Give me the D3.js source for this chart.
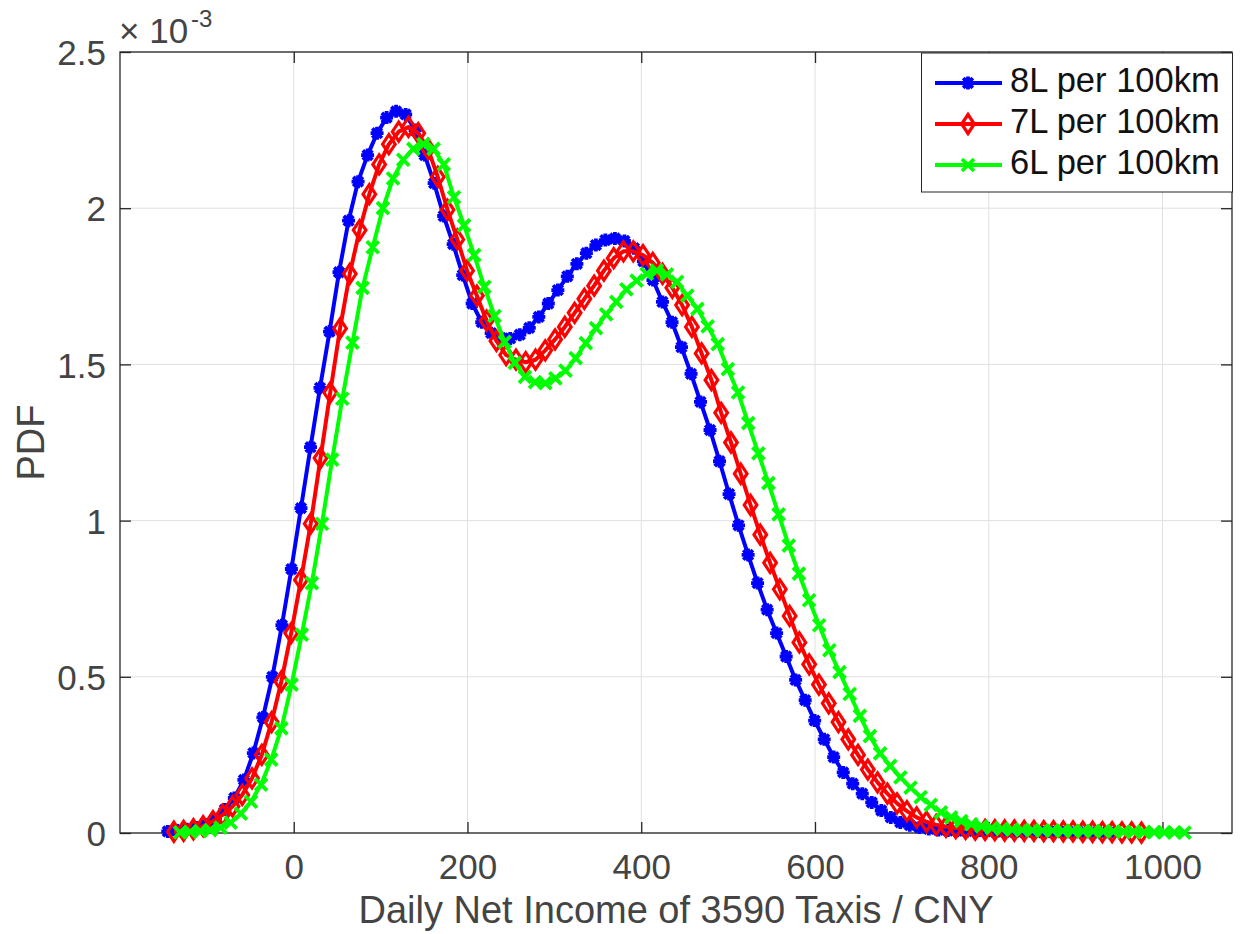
<!DOCTYPE html>
<html><head><meta charset="utf-8">
<script src="https://cdn.jsdelivr.net/npm/d3@7"></script>
<style>body{margin:0;background:#fff}text{font-family:"Liberation Sans",Arial,sans-serif}</style>
</head><body>
<svg id="c" width="1241" height="934"></svg>
<script>
// ---- data (PDF values in units of 1e-3) ----
const seriesNames = ["8L per 100km", "7L per 100km", "6L per 100km"];
const seriesColors = ["#0000ff", "#ff0000", "#00ff00"];

const blueX = [-145.0,-134.1,-123.1,-112.2,-101.2,-90.3,-79.3,-68.4,-57.4,-46.5,-35.5,-24.6,-13.6,-2.7,8.3,19.3,30.2,41.2,52.1,63.1,74.0,85.0,95.9,106.9,117.8,128.8,139.7,150.7,161.6,172.6,183.5,194.5,205.4,216.4,227.3,238.3,249.2,260.2,271.1,282.1,293.0,304.0,314.9,325.9,336.8,347.8,358.7,369.7,380.6,391.6,402.5,413.5,424.4,435.4,446.3,457.3,468.2,479.2,490.1,501.1,512.0,523.0,533.9,544.9,555.8,566.8,577.7,588.7,599.6,610.6,621.5,632.5,643.4,654.4,665.3,676.3,687.2,698.2,709.1,720.1,731.0,742.0,752.9,763.9,774.8,785.8,796.7,807.7,818.6,829.6,840.5,851.5,862.4,873.4,884.3,895.3,906.2,917.2,928.1,939.1];
const blueY = [0.005,0.008,0.012,0.018,0.027,0.042,0.075,0.112,0.17,0.256,0.37,0.50,0.665,0.845,1.04,1.235,1.425,1.605,1.795,1.96,2.085,2.17,2.24,2.29,2.31,2.30,2.25,2.17,2.08,1.975,1.885,1.786,1.695,1.635,1.60,1.585,1.583,1.595,1.617,1.652,1.695,1.738,1.782,1.822,1.856,1.882,1.898,1.903,1.895,1.872,1.83,1.77,1.70,1.635,1.555,1.47,1.38,1.29,1.19,1.085,0.985,0.89,0.80,0.715,0.64,0.565,0.49,0.425,0.36,0.30,0.243,0.194,0.158,0.126,0.098,0.072,0.05,0.034,0.025,0.018,0.013,0.01,0.008,0.007,0.006,0.005,0.005,0.004,0.004,0.003,0.003,0.003,0.002,0.002,0.002,0.001,0.001,0.001,0.001,0.001];

const redX = [-138.0,-126.8,-115.5,-104.3,-93.0,-81.8,-70.5,-59.3,-48.0,-36.8,-25.5,-14.3,-3.0,8.3,19.5,30.8,42.0,53.3,64.5,75.8,87.0,98.3,109.5,120.8,132.0,143.3,154.5,165.8,177.0,188.3,199.5,210.8,222.0,233.3,244.5,255.8,267.0,278.3,289.5,300.8,312.0,323.3,334.5,345.8,357.0,368.3,379.5,390.8,402.0,413.3,424.5,435.8,447.0,458.3,469.5,480.8,492.0,503.3,514.5,525.8,537.0,548.3,559.5,570.8,582.0,593.3,604.5,615.8,627.0,638.3,649.5,660.8,672.0,683.3,694.5,705.8,717.0,728.3,739.5,750.8,762.0,773.3,784.5,795.8,807.0,818.3,829.5,840.8,852.0,863.3,874.5,885.8,897.0,908.3,919.5,930.8,942.0,953.3,964.5,975.8];
const redY = [0.004,0.007,0.012,0.022,0.038,0.058,0.085,0.122,0.175,0.25,0.355,0.485,0.64,0.81,0.99,1.20,1.41,1.615,1.79,1.93,2.045,2.14,2.205,2.245,2.26,2.24,2.19,2.10,1.995,1.90,1.80,1.72,1.64,1.575,1.53,1.515,1.507,1.515,1.545,1.58,1.62,1.665,1.71,1.752,1.80,1.84,1.862,1.862,1.85,1.825,1.79,1.745,1.69,1.62,1.535,1.45,1.345,1.25,1.15,1.05,0.955,0.865,0.78,0.695,0.61,0.54,0.475,0.415,0.355,0.30,0.25,0.203,0.162,0.126,0.095,0.07,0.05,0.036,0.026,0.02,0.016,0.013,0.011,0.01,0.009,0.008,0.008,0.007,0.007,0.006,0.006,0.005,0.005,0.004,0.004,0.003,0.003,0.002,0.002,0.001];

const greenX = [-131.0,-119.3,-107.6,-96.0,-84.3,-72.6,-60.9,-49.2,-37.6,-25.9,-14.2,-2.5,9.2,20.8,32.5,44.2,55.9,67.6,79.2,90.9,102.6,114.3,126.0,137.6,149.3,161.0,172.7,184.4,196.0,207.7,219.4,231.1,242.8,254.4,266.1,277.8,289.5,301.2,312.8,324.5,336.2,347.9,359.6,371.2,382.9,394.6,406.3,418.0,429.6,441.3,453.0,464.7,476.4,488.0,499.7,511.4,523.1,534.8,546.4,558.1,569.8,581.5,593.2,604.8,616.5,628.2,639.9,651.6,663.2,674.9,686.6,698.3,710.0,721.6,733.3,745.0,756.7,768.4,780.0,791.7,803.4,815.1,826.8,838.4,850.1,861.8,873.5,885.2,896.8,908.5,920.2,931.9,943.6,955.2,966.9,978.6,990.3,1002.0,1013.6,1025.3];
const greenY = [0.002,0.004,0.006,0.009,0.017,0.033,0.062,0.10,0.155,0.235,0.335,0.475,0.635,0.80,0.99,1.195,1.39,1.57,1.745,1.875,2.0,2.095,2.155,2.19,2.205,2.19,2.14,2.035,1.945,1.85,1.748,1.655,1.572,1.505,1.46,1.443,1.44,1.455,1.48,1.52,1.568,1.616,1.66,1.70,1.74,1.768,1.79,1.80,1.788,1.764,1.72,1.678,1.622,1.565,1.485,1.41,1.312,1.215,1.12,1.02,0.92,0.83,0.745,0.665,0.585,0.515,0.445,0.375,0.31,0.255,0.215,0.178,0.145,0.115,0.09,0.066,0.05,0.038,0.028,0.021,0.016,0.013,0.011,0.01,0.009,0.008,0.008,0.007,0.007,0.006,0.006,0.005,0.005,0.004,0.004,0.003,0.003,0.002,0.002,0.001];

const xTicks = [0, 200, 400, 600, 800, 1000];
const xTickLabels = ["0", "200", "400", "600", "800", "1000"];
const yTicks = [0, 0.5, 1, 1.5, 2, 2.5];
const yTickLabels = ["0", "0.5", "1", "1.5", "2", "2.5"];
const xDomain = [-200, 1080];
const yDomain = [0, 2.5];
const xLabel = "Daily Net Income of 3590 Taxis / CNY";
const yLabel = "PDF";

// ---- drawing ----
const svg = d3.select("#c");
svg.append("rect").attr("width", 1241).attr("height", 934).attr("fill", "#fff");
const L = 120, R = 1232, T = 52, B = 833;
const x = d3.scaleLinear().domain(xDomain).range([L, R]);
const y = d3.scaleLinear().domain(yDomain).range([B, T]);
const axisColor = "#262626", textColor = "#444";
const FONT = '"Liberation Sans",Arial,sans-serif';

// grid
const g = svg.append("g");
g.selectAll(".gx").data(xTicks).enter().append("line")
  .attr("x1", d => x(d)).attr("x2", d => x(d)).attr("y1", T).attr("y2", B)
  .attr("stroke", "#e0e0e0").attr("stroke-width", 1);
g.selectAll(".gy").data(yTicks).enter().append("line")
  .attr("x1", L).attr("x2", R).attr("y1", d => y(d)).attr("y2", d => y(d))
  .attr("stroke", "#e0e0e0").attr("stroke-width", 1);

// axes via d3 axis (inward ticks)
const xAxisB = d3.axisBottom(x).tickValues(xTicks).tickSize(-11).tickFormat((d, i) => xTickLabels[i]);
const xAxisT = d3.axisTop(x).tickValues(xTicks).tickSize(-11).tickFormat("");
const yAxisL = d3.axisLeft(y).tickValues(yTicks).tickSize(-11).tickFormat((d, i) => yTickLabels[i]).tickPadding(14);
const yAxisR = d3.axisRight(y).tickValues(yTicks).tickSize(-11).tickFormat("");
function style(sel) {
  sel.selectAll(".tick line").attr("stroke", axisColor).attr("stroke-width", 1.3);
  sel.selectAll(".tick text").attr("fill", textColor).attr("font-size", 35).attr("font-family", FONT);
  sel.select("path.domain").remove();
}
const gxb = svg.append("g").attr("transform", `translate(0,${B})`).call(xAxisB); style(gxb);
gxb.selectAll(".tick text").attr("y", 46).attr("dy", null);
const gxt = svg.append("g").attr("transform", `translate(0,${T})`).call(xAxisT); style(gxt);
const gyl = svg.append("g").attr("transform", `translate(${L},0)`).call(yAxisL); style(gyl);
gyl.selectAll(".tick text").attr("dy", "0.36em");
const gyr = svg.append("g").attr("transform", `translate(${R},0)`).call(yAxisR); style(gyr);
svg.append("rect").attr("x", L).attr("y", T).attr("width", R - L).attr("height", B - T)
  .attr("fill", "none").attr("stroke", axisColor).attr("stroke-width", 1.3);

// labels
svg.append("text").attr("x", (L + R) / 2).attr("y", 923).attr("text-anchor", "middle")
  .attr("font-size", 38).attr("fill", textColor).text(xLabel);
svg.append("text").attr("transform", `translate(44,${(T + B) / 2}) rotate(-90)`).attr("text-anchor", "middle")
  .attr("font-size", 38).attr("fill", textColor).text(yLabel);
const ex = svg.append("text").attr("x", 119).attr("y", 43).attr("font-size", 35).attr("fill", textColor);
ex.append("tspan").text("\u00d7 10");
ex.append("tspan").attr("font-size", 24).attr("dy", -16).attr("dx", 3).text("-3");

// markers
const markerPaths = [
  "M-6.5,0H6.5M0,-6.5V6.5M-4.8,-4.8L4.8,4.8M-4.8,4.8L4.8,-4.8",
  "M0,-9.5L6.3,0L0,9.5L-6.3,0Z",
  "M-6,-6L6,6M-6,6L6,-6"
];
const markerWidths = [3.8, 3.2, 3.8];
const seriesData = [
  blueX.map((v, i) => [v, blueY[i]]),
  redX.map((v, i) => [v, redY[i]]),
  greenX.map((v, i) => [v, greenY[i]])
];
const line = d3.line().x(d => x(d[0])).y(d => y(d[1]));
seriesData.forEach((data, k) => {
  const sg = svg.append("g");
  sg.append("path").datum(data).attr("d", line).attr("fill", "none")
    .attr("stroke", seriesColors[k]).attr("stroke-width", 4).attr("stroke-linejoin", "round");
  sg.selectAll("path.m").data(data).enter().append("path").attr("class", "m")
    .attr("transform", d => `translate(${x(d[0])},${y(d[1])})`)
    .attr("d", markerPaths[k]).attr("fill", "none")
    .attr("stroke", seriesColors[k]).attr("stroke-width", markerWidths[k]);
});

// legend
const lg = svg.append("g");
lg.append("rect").attr("x", 921.5).attr("y", 53).attr("width", 311).attr("height", 139)
  .attr("fill", "#fff").attr("stroke", axisColor).attr("stroke-width", 1);
const rowY = [83, 124, 165];
seriesNames.forEach((name, k) => {
  lg.append("line").attr("x1", 935).attr("x2", 1002).attr("y1", rowY[k]).attr("y2", rowY[k])
    .attr("stroke", seriesColors[k]).attr("stroke-width", 4);
  lg.append("path").attr("transform", `translate(968,${rowY[k]})`).attr("d", markerPaths[k])
    .attr("fill", "none").attr("stroke", seriesColors[k]).attr("stroke-width", markerWidths[k]);
  lg.append("text").attr("x", 1010).attr("y", rowY[k] + 9).attr("font-size", 34.5)
    .attr("fill", "#111").text(name);
});
</script>
</body></html>
